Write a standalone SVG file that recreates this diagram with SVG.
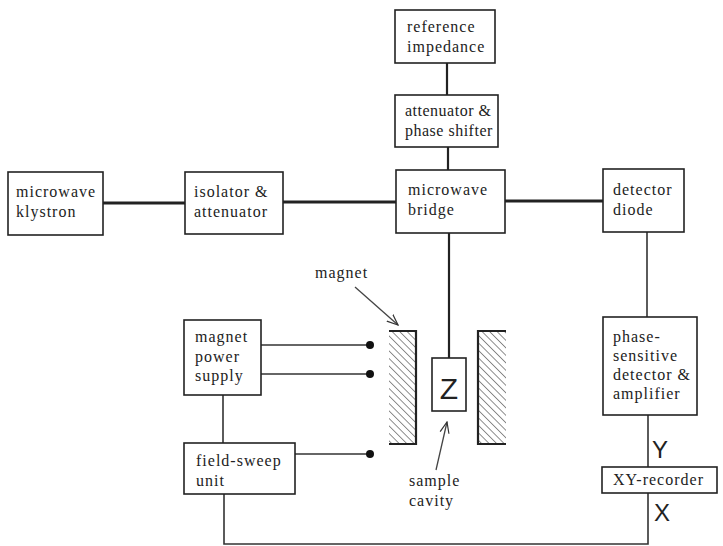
<svg xmlns="http://www.w3.org/2000/svg" width="723" height="546" viewBox="0 0 723 546">
  <style>
    .box { fill: #fff; stroke: #222; stroke-width: 1.6; }
    .lbl { font-family: "Liberation Serif", "Times New Roman", serif; font-size: 16px; letter-spacing: 1px; fill: #222; }
    .tight { letter-spacing: 0.5px; }
    .sym { font-family: "Liberation Sans", "DejaVu Sans", sans-serif; fill: #222; }
    .wg { stroke: #222; stroke-width: 3; fill: none; }
    .ln { stroke: #333; stroke-width: 1.6; fill: none; }
    .thin { stroke: #444; stroke-width: 1.3; fill: none; }
    .dot { fill: #111; }
  </style>
  <defs>
    <pattern id="hatch" patternUnits="userSpaceOnUse" width="5.3" height="10" patternTransform="rotate(-45)">
      <line x1="0" y1="0" x2="0" y2="10" stroke="#333" stroke-width="1.1"/>
    </pattern>
    <marker id="open" viewBox="0 0 12 12" refX="11" refY="6" markerWidth="12" markerHeight="12" markerUnits="userSpaceOnUse" orient="auto">
      <path d="M0,1.5 L11,6 L0,10.5" fill="none" stroke="#333" stroke-width="1.2"/>
    </marker>
  </defs>

  <!-- connectors -->
  <g id="connectors">
    <line class="wg" x1="103" y1="203" x2="185" y2="203"/>
    <line class="wg" x1="283" y1="202" x2="396" y2="202"/>
    <line class="wg" x1="505" y1="201" x2="603" y2="201"/>
    <line class="wg" x1="447" y1="63" x2="447" y2="95" style="stroke-width:2.2"/>
    <line class="wg" x1="448" y1="147" x2="448" y2="170" style="stroke-width:2.2"/>
    <line class="wg" x1="449" y1="233" x2="449" y2="358" style="stroke-width:2.2"/>
    <line class="ln" x1="647" y1="232" x2="647" y2="317"/>
    <line class="ln" x1="648" y1="415" x2="648" y2="467"/>
    <polyline class="ln" points="648,493 648,544 224,544 224,494"/>
    <line class="ln" x1="223" y1="395" x2="223" y2="443"/>
    <line class="ln" x1="261" y1="345" x2="370" y2="345"/>
    <line class="ln" x1="261" y1="374" x2="370" y2="374"/>
    <line class="ln" x1="295" y1="454" x2="370" y2="454"/>
    <circle class="dot" cx="370" cy="345" r="4"/>
    <circle class="dot" cx="370" cy="374" r="4"/>
    <circle class="dot" cx="370" cy="454" r="4"/>
    <line class="thin" x1="355" y1="287" x2="398" y2="325" marker-end="url(#open)"/>
    <line class="thin" x1="436" y1="470" x2="447" y2="422" marker-end="url(#open)"/>
  </g>

  <g id="klystron">
    <rect class="box" x="8" y="172" width="95" height="63"/>
    <text class="lbl" x="16" y="197">microwave</text>
    <text class="lbl" x="16" y="217">klystron</text>
  </g>
  <g id="isolator">
    <rect class="box" x="185" y="172" width="98" height="62"/>
    <text class="lbl" x="194" y="197">isolator &amp;</text>
    <text class="lbl" x="194" y="217">attenuator</text>
  </g>
  <g id="bridge">
    <rect class="box" x="396" y="170" width="109" height="63"/>
    <text class="lbl" x="408" y="195">microwave</text>
    <text class="lbl" x="408" y="215">bridge</text>
  </g>
  <g id="detector-diode">
    <rect class="box" x="603" y="169" width="81" height="63"/>
    <text class="lbl" x="613" y="195">detector</text>
    <text class="lbl" x="613" y="215">diode</text>
  </g>
  <g id="reference-impedance">
    <rect class="box" x="395" y="10" width="100" height="53"/>
    <text class="lbl" x="407" y="32">reference</text>
    <text class="lbl" x="407" y="52">impedance</text>
  </g>
  <g id="attenuator-phase">
    <rect class="box" x="395" y="95" width="103" height="52"/>
    <text class="lbl tight" x="405" y="116">attenuator &amp;</text>
    <text class="lbl tight" x="405" y="136">phase shifter</text>
  </g>
  <g id="magnet-power-supply">
    <rect class="box" x="184" y="320" width="77" height="75"/>
    <text class="lbl" x="195" y="342">magnet</text>
    <text class="lbl" x="195" y="362">power</text>
    <text class="lbl" x="195" y="381">supply</text>
  </g>
  <g id="field-sweep">
    <rect class="box" x="184" y="443" width="111" height="51"/>
    <text class="lbl" x="196" y="466">field-sweep</text>
    <text class="lbl" x="196" y="486">unit</text>
  </g>
  <g id="phase-sensitive-detector">
    <rect class="box" x="603" y="317" width="94" height="98"/>
    <text class="lbl" x="613" y="342">phase-</text>
    <text class="lbl" x="613" y="361">sensitive</text>
    <text class="lbl" x="613" y="380">detector &amp;</text>
    <text class="lbl" x="613" y="399">amplifier</text>
  </g>
  <g id="xy-recorder">
    <rect class="box" x="602" y="467" width="115" height="26"/>
    <text class="lbl" x="613" y="485">XY-recorder</text>
    <text class="sym" x="652" y="458" font-size="24">Y</text>
    <text class="sym" x="654" y="521" font-size="24">X</text>
  </g>

  <g id="magnet">
    <rect x="389" y="331" width="27" height="113" fill="url(#hatch)"/>
    <polyline points="389,331 416,331 416,444 389,444" fill="none" stroke="#222" stroke-width="2.2"/>
    <rect x="478" y="331" width="28" height="113" fill="url(#hatch)"/>
    <polyline points="506,331 478,331 478,444 506,444" fill="none" stroke="#222" stroke-width="2.2"/>
    <text class="lbl" x="315" y="278">magnet</text>
  </g>
  <g id="sample-cavity">
    <rect class="box" x="432" y="358" width="34" height="53"/>
    <text class="sym" x="449" y="399" font-size="30" text-anchor="middle">Z</text>
    <text class="lbl" x="409" y="486">sample</text>
    <text class="lbl" x="409" y="506">cavity</text>
  </g>
</svg>
